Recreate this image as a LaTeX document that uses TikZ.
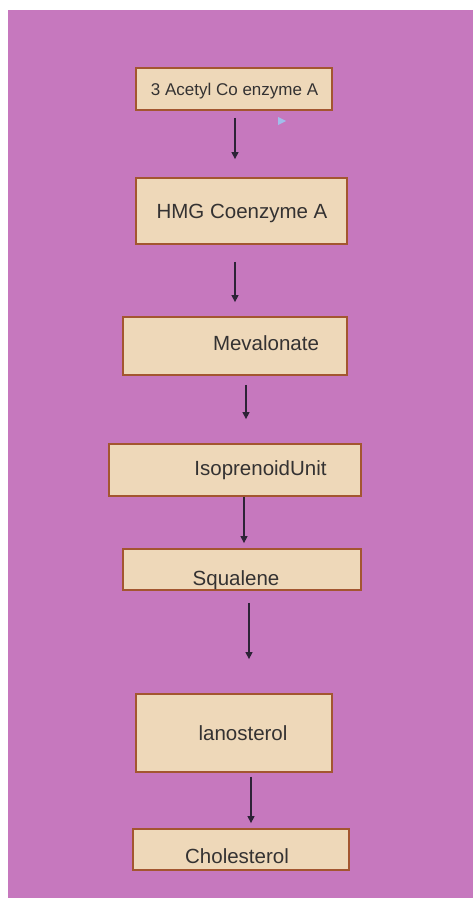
\documentclass[tikz,border=0pt]{standalone}
\usepackage{fontspec}
\setmainfont{Liberation Sans}
\usetikzlibrary{positioning,calc,arrows.meta}

\definecolor{bgpurple}{RGB}{198,120,190}
\definecolor{boxfill}{RGB}{238,216,185}
\definecolor{boxline}{RGB}{163,86,48}
\definecolor{txtgray}{RGB}{52,50,50}
\definecolor{arrowdark}{RGB}{45,35,55}
\definecolor{cursorblue}{RGB}{160,190,235}

\begin{document}
\begin{tikzpicture}[
  x=1pt, y=-1pt,
  box/.style={draw=boxline, line width=1.8pt, fill=boxfill, rectangle, inner sep=0pt},
  lbl/.style={anchor=base, text=txtgray, inner sep=0pt, font=\fontsize{20.5}{24}\selectfont},
  arrow/.style={draw=arrowdark, line width=1.3pt, -{Triangle[length=7pt,width=7pt]}}
]
% page and background
\useasboundingbox (0,0) rectangle (473,899);
\fill[white] (0,0) rectangle (473,899);
\fill[bgpurple] (8,10) rectangle (473,898);

% boxes
\node[box, minimum width=196pt, minimum height=42pt] (acetyl) at (234,89) {};
\node[box, minimum width=211pt, minimum height=66pt] (hmg) at (241.5,211) {};
\node[box, minimum width=224pt, minimum height=58pt] (meva) at (235,346) {};
\node[box, minimum width=252pt, minimum height=52pt] (iso) at (235,470) {};
\node[box, minimum width=238pt, minimum height=41pt] (squa) at (242,569.5) {};
\node[box, minimum width=196pt, minimum height=78pt] (lano) at (234,733) {};
\node[box, minimum width=216pt, minimum height=41pt] (chol) at (241,849.5) {};

% texts
\node[lbl, font=\fontsize{17}{20}\selectfont] (acetylT) at (234.5,95) {3 Acetyl Co enzyme A};
\node[lbl] (hmgT) at (242,218) {HMG Coenzyme A};
\node[lbl] (mevaT) at (266,350) {Mevalonate};
\node[lbl] (isoT) at (260.5,475) {IsoprenoidUnit};
\node[lbl] (squaT) at (236,585) {Squalene};
\node[lbl] (lanoT) at (243,740) {lanosterol};
\node[lbl] (cholT) at (237,863) {Cholesterol};

% arrows
\draw[arrow, shorten <=7pt, shorten >=18pt] ([xshift=1pt]acetyl.south) -- ([xshift=1pt]acetyl.south |- hmg.north);
\draw[arrow, shorten <=17pt, shorten >=14pt] ([xshift=-6.5pt]hmg.south) -- ([xshift=-6.5pt]hmg.south |- meva.north);
\draw[arrow, shorten <=9pt, shorten >=24pt] ([xshift=11pt]meva.south) -- ([xshift=11pt]meva.south |- iso.north);
\draw[arrow, shorten <=0pt, shorten >=5pt] ([xshift=9pt]iso.south) -- ([xshift=9pt]iso.south |- squa.north);
\draw[arrow, shorten <=12pt, shorten >=34pt] ([xshift=7pt]squa.south) -- ([xshift=7pt]squa.south |- lano.north);
\draw[arrow, shorten <=4pt, shorten >=5pt] ([xshift=17pt]lano.south) -- ([xshift=17pt]lano.south |- chol.north);

% cursor mark
\fill[cursorblue] (278,117) -- (286,121) -- (278,125) -- cycle;
\end{tikzpicture}
\end{document}
